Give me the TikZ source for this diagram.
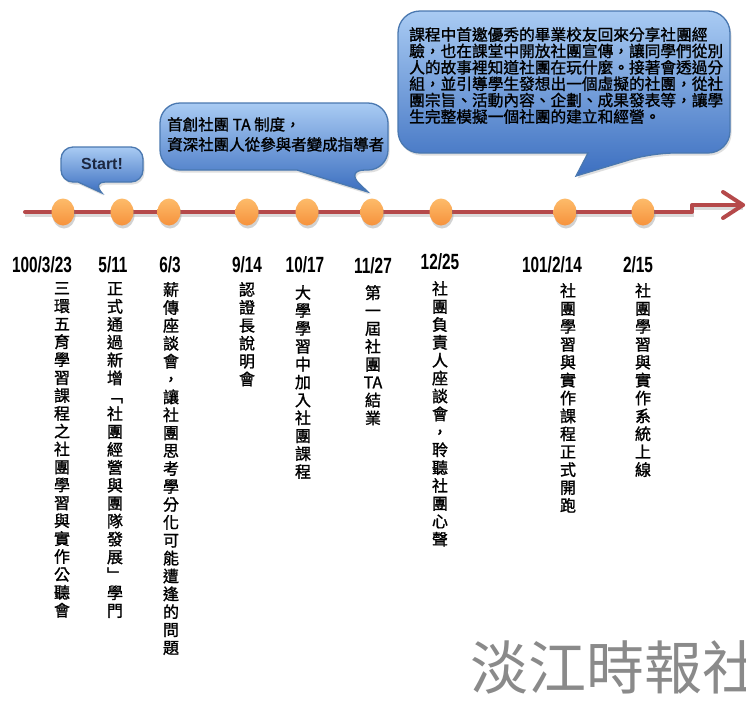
\documentclass[tikz,border=0pt]{standalone}
\usepackage{fontspec}
\setmainfont{Liberation Sans}
\newfontfamily\cjk{Noto Sans CJK TC}
\newfontfamily\cjkb[FakeBold=1.3]{Noto Sans CJK TC}
\usetikzlibrary{shadows,shapes.geometric}
\definecolor{linered}{HTML}{B5494A}
\definecolor{boxtop}{HTML}{A9CBF3}
\definecolor{boxbot}{HTML}{3C6FC0}
\definecolor{boxedge}{HTML}{4A78B0}
\definecolor{dotlight}{HTML}{FDBB6A}
\definecolor{dotdark}{HTML}{F6923C}
\definecolor{wmgray}{HTML}{8A8A8A}
\definecolor{startink}{HTML}{1C2740}
\def\vtstop{\vtstop}
\def\vtaux#1{\ifx\vtstop#1\else\hbox to 16pt{\hss#1\hss}\expandafter\vtaux\fi}
\newcommand\vcol[1]{\vbox{\cjkb\fontsize{16}{17.9}\selectfont\baselineskip=17.9pt\lineskiplimit=-20pt\vtaux#1\vtstop}}
\tikzset{
  dotnode/.style={ellipse, minimum width=23pt, minimum height=27pt, inner sep=0pt,
    top color=dotlight, bottom color=dotdark, draw=none,
    drop shadow={opacity=0.35, shadow xshift=1pt, shadow yshift=-3pt}},
  datenode/.style={inner sep=0pt, font=\fontsize{22}{22}\selectfont},
  vnode/.style={inner sep=0pt, anchor=north},
  calloutbox/.style={draw=boxedge, line width=1.3pt, top color=boxtop, bottom color=boxbot,
    drop shadow={opacity=0.25, shadow xshift=1.5pt, shadow yshift=-2.5pt}},
  calltext/.style={inner sep=0pt, anchor=north west, align=left, text=black,
    font=\cjkb\fontsize{15.7}{16.4}\selectfont},
  tline/.style={draw=linered, line width=4pt, line join=round, line cap=round}
}
\newcommand\dt[1]{\scalebox{0.7}[1]{\bfseries #1}}
\begin{document}
\begin{tikzpicture}[x=1pt,y=-1pt]
\useasboundingbox (0,0) rectangle (746,702);
\clip (0,0) rectangle (746,702);
\fill[white] (0,0) rectangle (746,702);

% timeline
\coordinate (ls) at (25,212);
\coordinate (lstep) at (692,212);
\coordinate (lup) at (692,205);
\coordinate (ae) at (743,205);
\coordinate (ah1) at (723,192);
\coordinate (ah2) at (723,218);
\draw[draw=black!40, opacity=0.35, line width=4pt] ([yshift=-3pt]ls) -- ([yshift=-3pt]lstep) -- ([yshift=-3pt]lup) -- ([yshift=-3pt]ae);
\draw[tline] (ls) -- (lstep) -- (lup) -- (ae);
\draw[tline] (ah1) -- (ae) -- (ah2);

% dots
\foreach \n/\x in {1/63,2/122,3/169,4/247,5/307,6/372,7/441,8/565,9/643}
  \node[dotnode] (d\n) at (\x,212) {};

% dates
\node[datenode] (t1) at (42,265) {\dt{100/3/23}};
\node[datenode] (t2) at (113,265) {\dt{5/11}};
\node[datenode] (t3) at (170,265) {\dt{6/3}};
\node[datenode] (t4) at (247,265) {\dt{9/14}};
\node[datenode] (t5) at (305,265) {\dt{10/17}};
\node[datenode] (t6) at (373,266) {\dt{11/27}};
\node[datenode] (t7) at (440,262) {\dt{12/25}};
\node[datenode] (t8) at (552,265) {\dt{101/2/14}};
\node[datenode] (t9) at (638,265) {\dt{2/15}};

% vertical descriptions
\node[vnode] (v1) at (62,282) {\vcol{三環五育學習課程之社團學習與實作公聽會}};
\node[vnode] (v2) at (115,282) {\vcol{正式通過新增﹁社團經營與團隊發展﹂學門}};
\node[vnode] (v3) at (171,282) {\vcol{薪傳座談會，讓社團思考學分化可能遭逢的問題}};
\node[vnode] (v4) at (247,282) {\vcol{認證長說明會}};
\node[vnode] (v5) at (303,285) {\vcol{大學學習中加入社團課程}};
\node[vnode] (v6) at (373,285) {\vcol{第一屆社團{TA}結業}};
\node[vnode] (v7) at (440,281) {\vcol{社團負責人座談會，聆聽社團心聲}};
\node[vnode] (v8) at (568,283) {\vcol{社團學習與實作課程正式開跑}};
\node[vnode] (v9) at (643,283) {\vcol{社團學習與實作系統上線}};

% Start! callout
\path[calloutbox] (78,182) [rounded corners=12pt] -- (61,182) -- (61,147) -- (143,147) -- (143,182) -- (93,182) [sharp corners] -- (102,193) -- cycle;
\node[inner sep=0pt, text=startink, font=\bfseries\fontsize{16}{16}\selectfont] (start) at (102,164) {Start!};

% TA callout
\path[calloutbox] (297,170) [rounded corners=20pt] -- (160,170) -- (160,103) -- (388,103) -- (388,170) -- (345,170) [sharp corners] -- (368,192) -- cycle;
\node[calltext, font=\cjkb\fontsize{15.5}{20}\selectfont] (ta) at (167,117) {首創社團 TA 制度，\\資深社團人從參與者變成指導者};

% big callout
\path[calloutbox] (588,153) [rounded corners=22pt] -- (398,153) -- (398,11) -- (730,11) -- (730,153) -- (652,153) [sharp corners] -- (576,176) -- cycle;
\node[calltext] (big) at (409,27) {課程中首邀優秀的畢業校友回來分享社團經\\驗，也在課堂中開放社團宣傳，讓同學們從別\\人的故事裡知道社團在玩什麼。接著會透過分\\組，並引導學生發想出一個虛擬的社團，從社\\團宗旨、活動內容、企劃、成果發表等，讓學\\生完整模擬一個社團的建立和經營。};

% watermark
\node[anchor=base west, inner sep=0pt, text=wmgray, font=\cjk\fontsize{58}{58}\selectfont] (wm) at (470,689) {淡江時報社};
\end{tikzpicture}
\end{document}
